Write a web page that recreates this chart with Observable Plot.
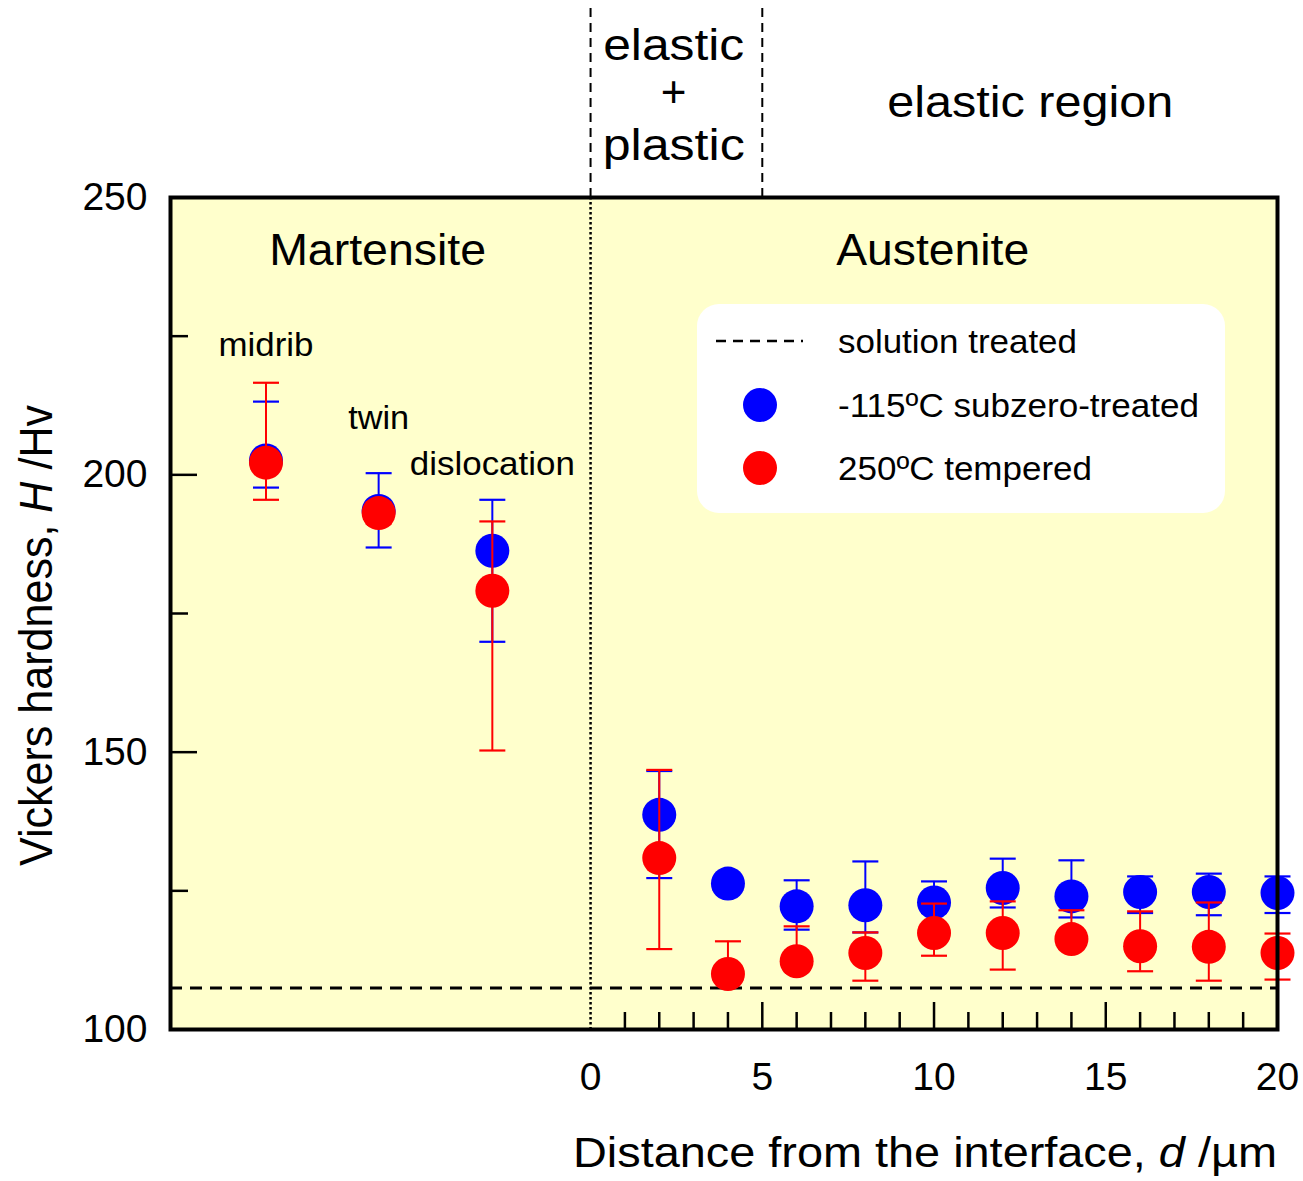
<!DOCTYPE html>
<html><head><meta charset="utf-8">
<script src="https://cdn.jsdelivr.net/npm/d3@7"></script>
<script src="https://cdn.jsdelivr.net/npm/@observablehq/plot@0.6"></script>
<style>
body{margin:0;background:#fff;}
#chart{width:1303px;height:1181px;}
svg{font-family:"Liberation Sans",Arial,sans-serif;}
</style></head><body><div id="chart"></div>
<script>
// ---- Martensite (nominal positions left of the interface) ----
const martLabels = ["midrib", "twin", "dislocation"];
const martX = [-9.45, -6.17, -2.86];
const martLabelY = [223.3, 210.1, 201.9];
const martBlue = [202.6, 193.5, 186.3];
const martBlueHi = [213.2, 200.3, 195.5];
const martBlueLo = [197.7, 186.9, 169.9];
const martRed = [202.2, 193.1, 179.1];
const martRedHi = [216.6, 195.0, 191.6];
const martRedLo = [195.5, 191.2, 150.3];

// ---- Austenite: distance from the interface (µm) ----
const dist = [2, 4, 6, 8, 10, 12, 14, 16, 18, 20];
const blue = [138.7, 126.3, 122.2, 122.4, 122.9, 125.5, 124.0, 124.8, 124.8, 124.6];
const blueHi = [146.6, 127.5, 126.9, 130.3, 126.7, 130.8, 130.5, 127.6, 128.1, 127.6];
const blueLo = [127.3, 125.0, 118.0, 117.5, 121.0, 122.0, 120.2, 121.0, 120.6, 121.0];
const red = [130.9, 110.0, 112.3, 113.8, 117.4, 117.4, 116.3, 115.0, 114.9, 113.8];
const redHi = [146.8, 115.9, 118.6, 117.5, 122.7, 123.1, 121.5, 121.3, 122.9, 117.3];
const redLo = [114.5, 108.5, 110.5, 108.8, 113.3, 110.8, 114.5, 110.5, 108.8, 109.0];

const solutionTreated = 107.5;
const seriesNames = ["-115ºC subzero-treated", "250ºC tempered"];
const seriesColors = ["#0000ff", "#ff0000"];

const xTickLabels = [0, 5, 10, 15, 20];
const xMajor = [5, 10, 15, 20];
const xMinor = d3.range(1, 20).filter(v => v % 5 !== 0);
const yTickLabels = [100, 150, 200, 250];
const yMajor = [150, 200];
const yMinor = [125, 175, 225];

function rows(xs, v, hi, lo, s) {
  return xs.map((x, i) => ({d: x, v: v[i], hi: hi[i], lo: lo[i], s}));
}
const blueRows = rows(martX, martBlue, martBlueHi, martBlueLo, 0).concat(rows(dist, blue, blueHi, blueLo, 0));
const redRows = rows(martX, martRed, martRedHi, martRedLo, 1).concat(rows(dist, red, redHi, redLo, 1));

const cap = {draw(ctx, size) { const r = Math.sqrt(size / Math.PI); ctx.moveTo(-r, 0); ctx.lineTo(r, 0); }};

function seriesMarks(data, color) {
  return [
    Plot.ruleX(data, {x: "d", y1: "lo", y2: "hi", stroke: color, strokeWidth: 2}),
    Plot.dot(data, {x: "d", y: "hi", symbol: cap, r: 13, fill: "none", stroke: color, strokeWidth: 2.2}),
    Plot.dot(data, {x: "d", y: "lo", symbol: cap, r: 13, fill: "none", stroke: color, strokeWidth: 2.2}),
    Plot.dot(data, {x: "d", y: "v", r: 17, fill: color, stroke: "none"})
  ];
}

const W = 1303, H = 1181, mT = 197, mB = 152, mL = 170, mR = 26;
const innerH = H - mT - mB, innerW = W - mL - mR;
const head = {frameAnchor: "top", lineAnchor: "middle", fontSize: 44, text: d => d};

const plot = Plot.plot({
  width: W, height: H,
  marginTop: mT, marginBottom: mB, marginLeft: mL, marginRight: mR,
  style: {fontFamily: "Liberation Sans, Arial, sans-serif", background: "#fff", color: "#000"},
  x: {domain: [-12.23, 20]},
  y: {domain: [100, 250]},
  marks: [
    Plot.frame({fill: "#ffffcc", stroke: "none"}),
    // region dividers above the frame
    Plot.ruleX([0, 5], {stroke: "#000", strokeWidth: 2, strokeDasharray: "9,6", insetTop: -189, insetBottom: innerH}),
    // interface line
    Plot.ruleX([0], {stroke: "#000", strokeWidth: 2.5, strokeDasharray: "2.5,2.5"}),
    // solution treated reference
    Plot.ruleY([solutionTreated], {stroke: "#000", strokeWidth: 3, strokeDasharray: "12,8"}),
    // inward ticks
    Plot.ruleX(xMajor, {stroke: "#000", strokeWidth: 2.5, insetTop: innerH - 27}),
    Plot.ruleX(xMinor, {stroke: "#000", strokeWidth: 2.5, insetTop: innerH - 17}),
    Plot.ruleY(yMajor, {stroke: "#000", strokeWidth: 2.5, insetRight: innerW - 27}),
    Plot.ruleY(yMinor, {stroke: "#000", strokeWidth: 2.5, insetRight: innerW - 18}),
    Plot.axisX({ticks: xTickLabels, tickSize: 0, tickPadding: 33, fontSize: 39, label: null}),
    Plot.axisY({ticks: yTickLabels, tickSize: 0, tickPadding: 23, fontSize: 39, label: null}),
    // region headings
    Plot.text(["Martensite"], {...head, x: -6.2, dy: 53}),
    Plot.text(["Austenite"], {...head, x: 9.96, dy: 53}),
    Plot.text(["elastic"], {...head, x: 2.42, dy: -152}),
    Plot.text(["+"], {...head, x: 2.42, dy: -105}),
    Plot.text(["plastic"], {...head, x: 2.42, dy: -52}),
    Plot.text(["elastic region"], {...head, x: 12.8, dy: -95}),
    // martensite feature labels
    Plot.text(martLabels, {x: (d, i) => martX[i], y: (d, i) => martLabelY[i], text: d => d, fontSize: 33}),
    ...seriesMarks(blueRows, seriesColors[0]),
    ...seriesMarks(redRows, seriesColors[1]),
    Plot.frame({stroke: "#000", strokeWidth: 4, fill: "none"})
  ]
});

const svg = d3.select(plot);
// axis labels with italic symbols
const xl = svg.append("text").attr("x", W - mR).attr("y", 1167).attr("text-anchor", "end").attr("font-size", 43).attr("fill", "#000");
xl.append("tspan").text("Distance from the interface, ");
xl.append("tspan").attr("font-style", "italic").text("d");
xl.append("tspan").text(" /µm");
xl.attr("textLength", 704).attr("lengthAdjust", "spacingAndGlyphs");
const yl = svg.append("text").attr("transform", "translate(52,635.5) rotate(-90)").attr("text-anchor", "middle").attr("font-size", 46).attr("fill", "#000");
yl.append("tspan").text("Vickers hardness, ");
yl.append("tspan").attr("font-style", "italic").text("H");
yl.append("tspan").text(" /Hv");
yl.attr("textLength", 461).attr("lengthAdjust", "spacingAndGlyphs");

// legend
const lg = svg.append("g").attr("font-size", 34);
lg.append("rect").attr("x", 697).attr("y", 304).attr("width", 528).attr("height", 209).attr("rx", 22).attr("fill", "#fff");
lg.append("line").attr("x1", 716).attr("x2", 803).attr("y1", 341).attr("y2", 341).attr("stroke", "#000").attr("stroke-width", 2.5).attr("stroke-dasharray", "10,7");
lg.append("circle").attr("cx", 760).attr("cy", 405).attr("r", 17).attr("fill", seriesColors[0]);
lg.append("circle").attr("cx", 760).attr("cy", 468).attr("r", 17).attr("fill", seriesColors[1]);
["solution treated", seriesNames[0], seriesNames[1]].forEach((t, i) => {
  lg.append("text").attr("x", 838).attr("y", [341, 405, 468][i]).attr("dy", "0.35em")
    .attr("text-anchor", "start").attr("fill", "#000").text(t);
});

// match the reference's text widths
const widths = {
  "Martensite": 217, "Austenite": 193, "elastic": 141, "plastic": 142, "elastic region": 286,
  "midrib": 95, "twin": 61, "dislocation": 165,
  "solution treated": 239, "-115ºC subzero-treated": 361, "250ºC tempered": 254
};
svg.selectAll("text").each(function() {
  const w = widths[this.textContent];
  if (w) { this.setAttribute("textLength", w); this.setAttribute("lengthAdjust", "spacingAndGlyphs"); }
});

document.getElementById("chart").appendChild(plot);
</script></body></html>
